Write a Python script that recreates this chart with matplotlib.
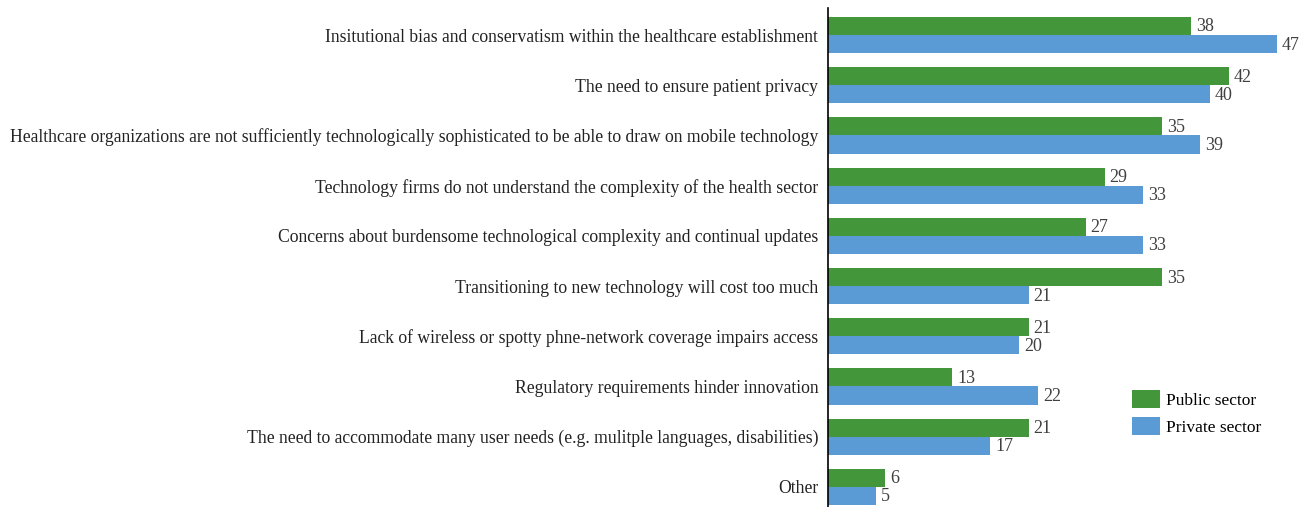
import matplotlib.pyplot as plt
import numpy as np

categories = [
    "Insitutional bias and conservatism within the healthcare establishment",
    "The need to ensure patient privacy",
    "Healthcare organizations are not sufficiently technologically sophisticated to be able to draw on mobile technology",
    "Technology firms do not understand the complexity of the health sector",
    "Concerns about burdensome technological complexity and continual updates",
    "Transitioning to new technology will cost too much",
    "Lack of wireless or spotty phne-network coverage impairs access",
    "Regulatory requirements hinder innovation",
    "The need to accommodate many user needs (e.g. mulitple languages, disabilities)",
    "Other",
]
public_sector = [38, 42, 35, 29, 27, 35, 21, 13, 21, 6]
private_sector = [47, 40, 39, 33, 33, 21, 20, 22, 17, 5]

plt.rcParams["font.family"] = ["Liberation Serif", "DejaVu Serif"]

fig = plt.figure(figsize=(13.12, 5.07), dpi=100)
ax = fig.add_axes([828 / 1312, 0.0, 1 - 828 / 1312 - 0.005, 1 - 8 / 507])

y = np.arange(len(categories))
h = 0.36
green = "#43963A"
blue = "#5B9BD5"
b1 = ax.barh(y - h / 2, public_sector, height=h, color=green, label="Public sector")
b2 = ax.barh(y + h / 2, private_sector, height=h, color=blue, label="Private sector")
for bars, vals in [(b1, public_sector), (b2, private_sector)]:
    for bar, v in zip(bars, vals):
        ax.text(bar.get_width() + 0.5, bar.get_y() + bar.get_height() / 2 + 0.02, str(v),
                va="center", ha="left", fontsize=13, color="#404040")

ax.set_yticks(y)
ax.set_yticklabels(categories, fontsize=12.7, color="#222222")
ax.tick_params(axis="y", length=0, pad=7)
ax.set_ylim(9.40, -0.538)
ax.set_xlim(0, 50)
ax.set_xticks([])
for s in ["top", "right", "bottom"]:
    ax.spines[s].set_visible(False)
ax.spines["left"].set_linewidth(1.2)

ax.legend(loc="upper left", bbox_to_anchor=(0.605, 0.266), frameon=False,
          fontsize=12.5, handlelength=1.6, handleheight=1.25, labelspacing=0.45,
          handletextpad=0.35)

fig.savefig("out.png", dpi=100)
